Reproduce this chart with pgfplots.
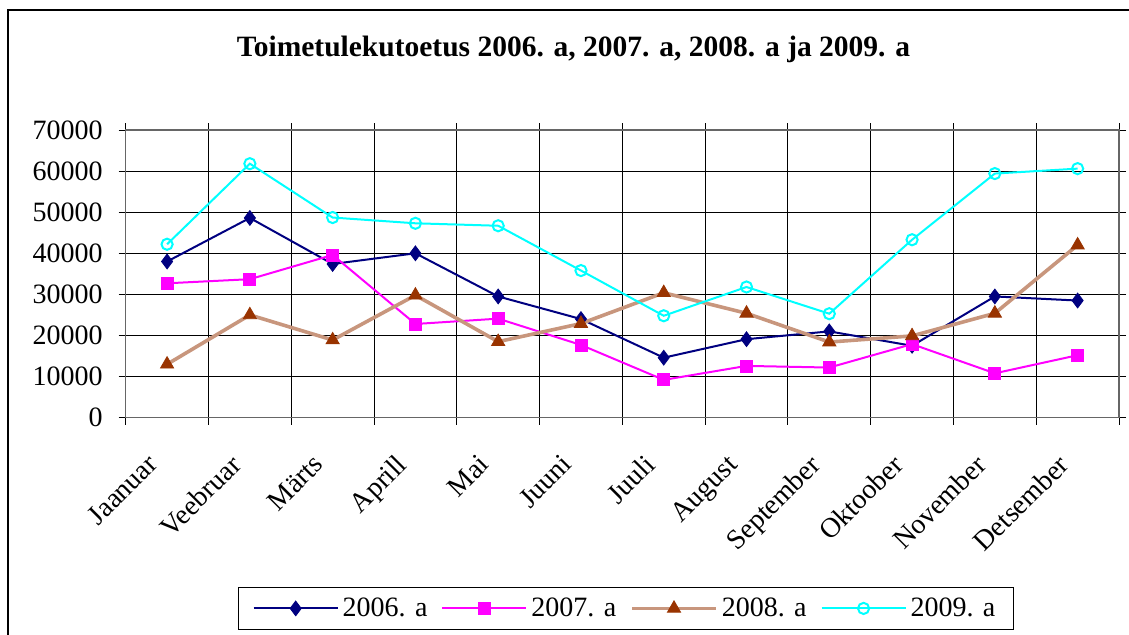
\documentclass[border=0pt]{standalone}
\usepackage{fontspec}
\setmainfont{Liberation Serif}
\usepackage{pgfplots}
\pgfplotsset{compat=1.18}
\definecolor{c06}{RGB}{0,0,128}
\definecolor{c07}{RGB}{255,0,255}
\definecolor{c08m}{RGB}{153,51,0}
\definecolor{c08l}{RGB}{200,150,125}
\definecolor{c09}{RGB}{0,255,255}
\begin{document}
\begin{tikzpicture}
\draw[line width=1pt] (4pt,312.5pt) -- (4pt,-20pt);
\draw[line width=1pt] (3.5pt,312.5pt) -- (600pt,312.5pt);
\begin{axis}[
  at={(62.85pt,108.65pt)}, anchor=south west,
  scale only axis, width=496.65pt, height=143.85pt,
  xmin=-0.5, xmax=11.5, ymin=0, ymax=70000,
  xtick={-0.5,0.5,...,11.5}, xticklabels={},
  ytick={0,10000,...,70000},
  grid=major, grid style={black, line width=0.5pt},
  axis line style={draw=black!60, line width=0.8pt},
  tick align=outside, major tick length=3.5pt,
  tick style={black, line width=0.5pt},
  scaled y ticks=false,
  /pgf/number format/set thousands separator={},
  /pgf/number format/assume math mode=true,
  tick label style={font=\fontsize{14}{14}\selectfont},
  yticklabel style={xshift=-4.5pt},
  extra x ticks={0,...,11},
  extra x tick labels={Jaanuar,Veebruar,Märts,Aprill,Mai,Juuni,Juuli,August,September,Oktoober,November,Detsember},
  extra x tick style={grid=none, major tick length=0pt, xticklabel style={rotate=45, anchor=north east, inner sep=1pt, xshift=-18.7pt, yshift=-3.9pt}},
  legend columns=4,
  legend style={at={(axis description cs:0.5037,-0.663)}, anchor=center, draw=black, font=\fontsize{14}{14}\selectfont, /tikz/every even column/.append style={column sep=5pt}, inner xsep=7pt, inner ysep=3pt},
  legend image code/.code={\draw[mark repeat=2,mark phase=2,#1] plot coordinates {(0pt,0pt)(21pt,0pt)(42pt,0pt)};},
]
\addplot[c06, line width=1pt, mark=diamond*, mark size=3.7pt, mark options={fill=c06, draw=c06, line width=0.4pt}] coordinates {
(0,38000)(1,48600)(2,37400)(3,40000)(4,29500)(5,24000)(6,14600)(7,19100)(8,21000)(9,17500)(10,29500)(11,28500)};
\addlegendentry{2006. a}
\addplot[c07, line width=1pt, mark=square*, mark size=3pt, mark options={fill=c07, draw=c07, line width=0.4pt}] coordinates {
(0,32700)(1,33700)(2,39600)(3,22800)(4,24100)(5,17700)(6,9200)(7,12600)(8,12200)(9,17900)(10,10800)(11,15200)};
\addlegendentry{2007. a}
\addplot[c08l, line width=1.8pt, mark=triangle*, mark size=3.8pt, mark options={fill=c08m, draw=c08m, line width=0.4pt}] coordinates {
(0,13000)(1,25000)(2,18900)(3,29800)(4,18500)(5,22900)(6,30400)(7,25400)(8,18400)(9,19900)(10,25400)(11,42000)};
\addlegendentry{2008. a}
\addplot[c09, line width=1pt, mark=o, mark size=2.8pt, mark options={draw=c09, line width=1pt}] coordinates {
(0,42200)(1,61800)(2,48700)(3,47300)(4,46700)(5,35800)(6,24800)(7,31800)(8,25300)(9,43300)(10,59400)(11,60600)};
\addlegendentry{2009. a}
\end{axis}
\node[font=\bfseries\fontsize{14.75}{14.75}\selectfont] at (286.75pt,293pt) {Toimetulekutoetus 2006. a, 2007. a, 2008. a ja 2009. a};
\pgfresetboundingbox
\useasboundingbox (0,0) rectangle (564.5pt,317.5pt);
\end{tikzpicture}
\end{document}
